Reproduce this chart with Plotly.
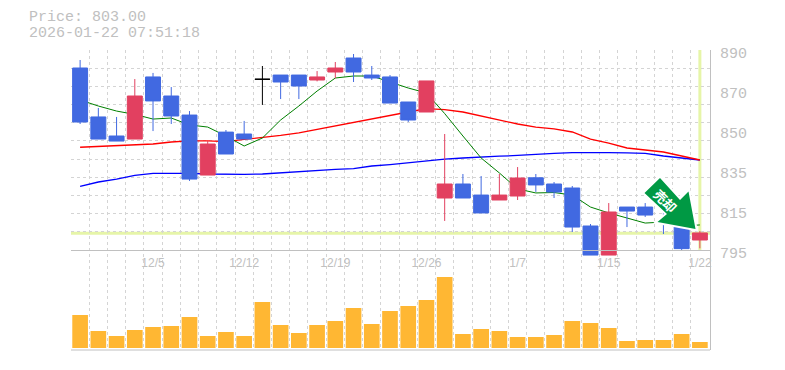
import plotly.graph_objects as go

# ---- data ----
open_p = [881.45, 858.2, 849.15, 847.7, 877.2, 868.15, 859.1, 830.6, 851.0, 850.1, 876.1, 878.1, 878.1, 875.75, 879.55, 886.2, 878.1, 877.2, 865.3, 860.55, 819.7, 826.35, 821.1, 818.75, 820.65, 829.3, 826.35, 824.45, 806.4, 792.6, 815.4, 815.4, 822.5, 806.5, 799.75]
high_p = [885.25, 862.45, 858.2, 876.2, 879.1, 872.4, 861.0, 846.8, 852.0, 856.3, 882.4, 878.1, 878.1, 880.0, 884.3, 888.1, 882.4, 878.1, 865.3, 875.3, 850.1, 831.1, 830.15, 831.1, 834.4, 831.1, 827.3, 825.4, 807.35, 817.3, 815.4, 817.3, 823.5, 807.0, 804.0]
low_p = [854.85, 847.7, 846.75, 847.7, 851.5, 854.85, 827.8, 830.6, 840.6, 847.7, 863.9, 866.7, 866.7, 875.1, 876.55, 874.8, 875.75, 864.8, 855.8, 860.55, 808.8, 819.7, 812.6, 818.75, 818.75, 822.6, 819.7, 803.55, 792.6, 792.6, 805.9, 810.7, 802.6, 794.7, 795.8]
close_p = [855.8, 847.7, 846.75, 868.15, 865.8, 858.65, 828.7, 845.35, 840.6, 847.7, 876.1, 874.8, 872.9, 877.2, 881.45, 879.55, 876.7, 864.8, 856.75, 875.3, 826.35, 819.7, 812.6, 821.1, 829.2, 825.9, 822.55, 805.9, 792.6, 813.05, 813.5, 811.6, 818.3, 795.65, 803.1]
ma_short = [866.25, 863.4, 861.0, 859.4, 857.2, 857.7, 854.4, 853.4, 849.15, 844.4, 848.2, 856.75, 863.4, 870.5, 876.7, 877.65, 877.65, 874.8, 871.95, 869.6, 859.8, 849.15, 838.7, 831.6, 824.0, 822.1, 822.3, 821.1, 815.4, 812.6, 810.2, 807.8, 808.3, 806.4, 806.9]
ma_mid = [843.8, 844.2, 844.4, 844.9, 845.35, 846.3, 846.8, 846.8, 846.5, 847.5, 848.4, 849.4, 850.6, 852.2, 853.9, 855.6, 857.2, 858.9, 860.55, 862.2, 861.7, 860.55, 858.65, 857.0, 854.85, 853.4, 852.5, 851.05, 847.7, 845.8, 843.45, 842.5, 841.55, 839.65, 837.75]
ma_long = [825.25, 827.3, 828.7, 830.4, 831.35, 831.4, 831.4, 831.1, 830.95, 830.95, 831.1, 831.7, 832.3, 832.75, 833.25, 833.7, 834.9, 835.6, 836.55, 837.5, 838.2, 838.7, 838.95, 839.55, 839.9, 840.5, 840.85, 841.3, 841.4, 841.3, 841.1, 840.85, 839.65, 838.7, 837.75]
volume = [33, 17, 12, 18, 21, 22, 31, 12, 16, 12, 46, 23, 15, 23, 27, 40, 24, 37, 42, 48, 71, 14, 19, 17, 11, 11, 13, 27, 25, 20, 7, 8, 8, 14, 6]
x_tick_pos = [4, 9, 14, 19, 24, 29, 34]
x_tick_text = ["12/5", "12/12", "12/19", "12/26", "1/7", "1/15", "1/22"]
y_tick_pos = [890, 871, 852, 833, 814, 795]
y_tick_text = ["890", "870", "850", "835", "815", "795"]
last_price = 803.0
title_lines = ["Price: 803.00", "2026-01-22 07:51:18"]

OFF = 8  # page body margin
W, H = 785 - OFF, 370 - OFF
L, R, T, B = 71, 710, 50, 350
GRID = "#d4d4d4"
AXIS = "#c0c0c0"
TXT = "#c0c0c0"
BLUE = "#4169e1"
RED = "#e24060"
HILITE = "#e6f5a8"
MONO = "Liberation Mono, DejaVu Sans Mono, monospace"

px_per_unit = 200 / 95
y_bottom = 890 - (B - T) / px_per_unit
n = len(open_p)
xs = list(range(n))
boundaries = [i - 0.5 for i in range(n + 1)]
y_grid = [890 - k * 95 / 11 for k in range(11)]


def fx(px):
    return (px - L) / (R - L)


def fy(py):
    return (B - py) / (B - T)


def split(pred):
    idx = [i for i in xs if pred(i)]
    return dict(
        x=idx,
        open=[open_p[i] for i in idx],
        high=[high_p[i] for i in idx],
        low=[low_p[i] for i in idx],
        close=[close_p[i] for i in idx],
    )


def candle(pred, color):
    return go.Candlestick(
        **split(pred),
        increasing=dict(line=dict(color=color, width=1), fillcolor=color),
        decreasing=dict(line=dict(color=color, width=1), fillcolor=color),
        whiskerwidth=0,
        yaxis="y2",
        showlegend=False,
    )


fig = go.Figure()
for vals, col, lw in [(ma_long, "#0000ff", 1.3), (ma_mid, "#ff0000", 1.3), (ma_short, "#008000", 1)]:
    fig.add_trace(go.Scatter(x=xs, y=vals, mode="lines", line=dict(color=col, width=lw), showlegend=False))
fig.add_trace(candle(lambda i: close_p[i] < open_p[i], BLUE))
fig.add_trace(candle(lambda i: close_p[i] > open_p[i], RED))
fig.add_trace(candle(lambda i: close_p[i] == open_p[i], "#000000"))
fig.add_trace(go.Bar(x=xs, y=volume, width=0.86, marker=dict(color="#ffb733", line=dict(width=0)), yaxis="y3", showlegend=False))

xrange = [-0.5, n - 0.5 + 1 / 18.2]
arrow_pts = [(660, 178), (644.5, 193), (667, 214), (657.5, 222), (695.5, 229), (688.5, 191.5), (680, 200)]
arrow_path = "M {} {} L {} {} L {} {} L {} {} L {} {} L {} {} L {} {} Z".format(*[v for p in arrow_pts for v in (fx(p[0]), fy(p[1]))])
fig.update_layout(
    width=W,
    height=H,
    margin=dict(l=L - OFF, r=W - (R - OFF), t=T - OFF, b=H - (B - OFF), pad=0),
    paper_bgcolor="white",
    plot_bgcolor="white",
    boxmode="overlay",
    boxgap=0.18,
    boxgroupgap=0,
    xaxis=dict(
        domain=[0, 1],
        range=xrange,
        anchor="free",
        position=fy(250),
        tickmode="array",
        tickvals=x_tick_pos,
        ticktext=x_tick_text,
        showgrid=False,
        showline=True,
        linecolor=AXIS,
        linewidth=1,
        ticks="",
        zeroline=False,
        tickangle=0,
        ticklabelstandoff=2,
        tickfont=dict(family="Liberation Sans", size=12, color=TXT),
        rangeslider=dict(visible=False),
        minor=dict(tickmode="array", tickvals=boundaries, showgrid=True, gridcolor=GRID, griddash="3px,3px", gridwidth=1, ticks=""),
    ),
    yaxis=dict(
        domain=[0, 1],
        range=[y_bottom, 890],
        side="right",
        anchor="x",
        tickmode="array",
        tickvals=y_tick_pos,
        ticktext=y_tick_text,
        showgrid=False,
        showline=True,
        linecolor=AXIS,
        linewidth=1,
        ticks="",
        zeroline=False,
        ticklabelshift=3,
        ticklabelstandoff=6,
        tickfont=dict(family=MONO, size=15, color=TXT),
        minor=dict(tickmode="array", tickvals=y_grid, showgrid=True, gridcolor=GRID, griddash="3px,3px", gridwidth=1, ticks=""),
    ),
    yaxis2=dict(
        domain=[0, 1],
        range=[y_bottom, 890],
        overlaying="y",
        side="left",
        anchor="x",
        visible=False,
        showgrid=False,
        zeroline=False,
    ),
    yaxis3=dict(
        domain=[0, 1],
        range=[-2, 298],
        overlaying="y",
        side="left",
        anchor="x",
        visible=False,
        showgrid=False,
        zeroline=False,
    ),
    shapes=[
        dict(type="line", xref="paper", x0=0, x1=1, yref="paper", y0=0, y1=0, line=dict(color=AXIS, width=1), layer="above"),
        dict(type="line", xref="paper", x0=0, x1=1, yref="y", y0=last_price, y1=last_price, line=dict(color=HILITE, width=3), layer="below"),
        dict(type="line", xref="x", x0=n - 1, x1=n - 1, yref="y", y0=795, y1=890, line=dict(color=HILITE, width=3), layer="below"),
        dict(type="path", xref="paper", yref="paper", path=arrow_path, fillcolor="white", line=dict(color="white", width=4), layer="above"),
        dict(type="path", xref="paper", yref="paper", path=arrow_path, fillcolor="#009944", line=dict(width=0), layer="above"),
    ],
    annotations=[
        dict(text=title_lines[0], xref="paper", yref="paper", x=fx(27), y=fy(18), xanchor="left", yanchor="middle", showarrow=False, font=dict(family=MONO, size=15, color=TXT)),
        dict(text=title_lines[1], xref="paper", yref="paper", x=fx(27), y=fy(33), xanchor="left", yanchor="middle", showarrow=False, font=dict(family=MONO, size=15, color=TXT)),
        dict(text="<b>売却</b>", xref="paper", yref="paper", x=fx(665.5), y=fy(200), xanchor="center", yanchor="middle", showarrow=False, textangle=45, font=dict(family="Noto Sans CJK JP", size=13, color="white")),
    ],
)
fig.write_html("out.html")
